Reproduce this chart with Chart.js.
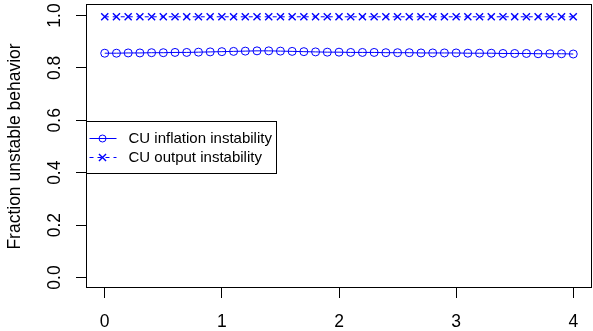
<!DOCTYPE html>
<html><head><meta charset="utf-8">
<script src="https://cdn.jsdelivr.net/npm/chart.js@4/dist/chart.umd.min.js"></script>
<style>html,body{margin:0;padding:0;background:#fff}#c{display:block}</style>
</head><body>
<canvas id="c" width="593" height="331"></canvas>
<script>
const xValues = [0.0,0.1,0.2,0.3,0.4,0.5,0.6,0.7,0.8,0.9,1.0,1.1,1.2,1.3,1.4,1.5,1.6,1.7,1.8,1.9,2.0,2.1,2.2,2.3,2.4,2.5,2.6,2.7,2.8,2.9,3.0,3.1,3.2,3.3,3.4,3.5,3.6,3.7,3.8,3.9,4.0];
const inflationInstability = [0.856,0.856,0.857,0.857,0.858,0.858,0.859,0.859,0.860,0.861,0.862,0.863,0.864,0.865,0.865,0.864,0.863,0.862,0.861,0.860,0.860,0.859,0.859,0.859,0.858,0.858,0.858,0.857,0.857,0.857,0.857,0.856,0.856,0.856,0.855,0.855,0.855,0.854,0.854,0.854,0.853];
const outputInstability = [0.995,0.995,0.995,0.995,0.995,0.995,0.995,0.995,0.995,0.995,0.995,0.995,0.995,0.995,0.995,0.995,0.995,0.995,0.995,0.995,0.995,0.995,0.995,0.995,0.995,0.995,0.995,0.995,0.995,0.995,0.995,0.995,0.995,0.995,0.995,0.995,0.995,0.995,0.995,0.995,0.995];
const xTicks = [0,1,2,3,4];
const yTicks = [0.0,0.2,0.4,0.6,0.8,1.0];
const seriesLabels = ['CU inflation instability','CU output instability'];
const yTitle = 'Fraction unstable behavior';

const FONT = 'Liberation Sans, Arial, Helvetica, sans-serif';
const BLUE = '#0000FF';

const boxPlugin = {
  id: 'rbox',
  afterDraw(chart) {
    const {ctx, chartArea: ca} = chart;
    ctx.save();
    ctx.strokeStyle = '#000';
    ctx.lineWidth = 1;
    ctx.strokeRect(Math.round(ca.left) + 0.5, Math.round(ca.top) - 0.5,
      Math.round(ca.right) - Math.round(ca.left) - 1, Math.round(ca.bottom) - Math.round(ca.top));
    // legend
    const lw = 190, lh = 52;
    const lx = Math.round(ca.left) + 0.5;
    const ly = Math.round((ca.top + ca.bottom) / 2 - lh / 2) + 0.5;
    ctx.strokeRect(lx, ly, lw, lh);
    const rows = [ly + 17, ly + 36];
    rows.forEach((ry, i) => {
      ctx.strokeStyle = BLUE;
      ctx.fillStyle = 'rgba(0,0,0,0)';
      ctx.lineWidth = 1;
      ctx.setLineDash(i === 0 ? [] : [4, 4]);
      ctx.beginPath();
      ctx.moveTo(lx + 3, ry);
      ctx.lineTo(lx + 30, ry);
      ctx.stroke();
      ctx.setLineDash([]);
      ctx.lineWidth = i === 0 ? 1 : 1.4;
      Chart.helpers.drawPoint(ctx, {
        pointStyle: i === 0 ? 'circle' : 'crossRot',
        radius: i === 0 ? 3.5 : 5, rotation: 0, borderWidth: i === 0 ? 1 : 1.4
      }, lx + 16, ry);
      ctx.font = '15px ' + FONT;
      ctx.textBaseline = 'middle';
      ctx.textAlign = 'left';
      ctx.fillStyle = '#000';
      ctx.fillText(seriesLabels[i], lx + 42, ry);
    });
    ctx.restore();
  }
};

new Chart(document.getElementById('c'), {
  type: 'line',
  data: {
    datasets: [
      {
        label: seriesLabels[0],
        data: xValues.map((x, i) => ({x, y: inflationInstability[i]})),
        borderColor: BLUE, backgroundColor: 'rgba(0,0,0,0)',
        borderWidth: 1, pointStyle: 'circle', pointRadius: 4,
        pointBorderColor: BLUE, pointBackgroundColor: 'rgba(0,0,0,0)', pointBorderWidth: 1,
        tension: 0, fill: false
      },
      {
        label: seriesLabels[1],
        data: xValues.map((x, i) => ({x, y: outputInstability[i]})),
        borderColor: BLUE, backgroundColor: 'rgba(0,0,0,0)',
        borderWidth: 1, borderDash: [4, 4], pointStyle: 'crossRot', pointRadius: 5,
        pointBorderColor: BLUE, pointBackgroundColor: BLUE, pointBorderWidth: 1.4,
        tension: 0, fill: false
      }
    ]
  },
  options: {
    responsive: false, animation: false, devicePixelRatio: 1,
    layout: {autoPadding: false, padding: {top: 5, right: 1, left: 0, bottom: 0}},
    plugins: {legend: {display: false}, tooltip: {enabled: false}},
    scales: {
      x: {
        type: 'linear', min: -0.16, max: 4.16,
        afterBuildTicks: s => { s.ticks = xTicks.map(v => ({value: v})); },
        afterFit: s => { s.height = 43; s.paddingLeft = 0; s.paddingRight = 0; },
        grid: {display: true, drawOnChartArea: false, drawTicks: true, tickLength: 10, color: '#000', tickColor: '#000', lineWidth: 1},
        border: {display: false},
        ticks: {font: {family: FONT, size: 17.5}, color: '#000', padding: 14, maxRotation: 0, autoSkip: false, callback: v => String(v)}
      },
      y: {
        type: 'linear', min: -0.04, max: 1.04,
        afterBuildTicks: s => { s.ticks = yTicks.map(v => ({value: v})); },
        afterFit: s => { s.width = 86; s.paddingTop = 0; s.paddingBottom = 0; },
        grid: {display: true, drawOnChartArea: false, drawTicks: true, tickLength: 10, color: '#000', tickColor: '#000', lineWidth: 1},
        border: {display: false},
        ticks: {font: {family: FONT, size: 17.5}, color: '#000', padding: 9, minRotation: 90, maxRotation: 90, crossAlign: 'center', autoSkip: false, callback: v => v.toFixed(1)},
        title: {display: true, text: yTitle, font: {family: FONT, size: 17.5}, color: '#000', padding: {top: 5, bottom: 0}}
      }
    }
  },
  plugins: [boxPlugin]
});
</script>
</body></html>
